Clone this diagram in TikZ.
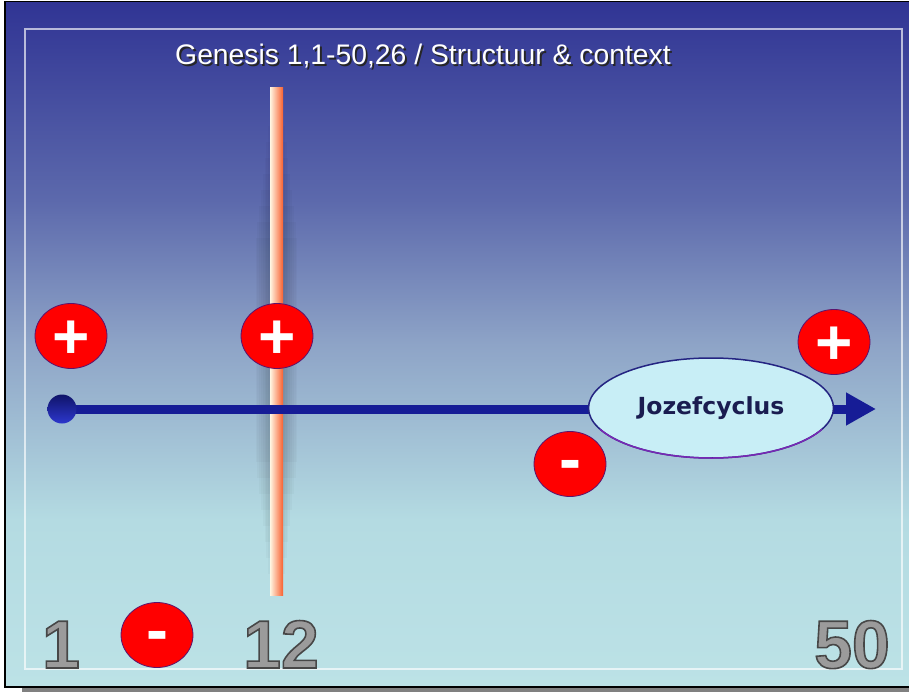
\documentclass[tikz,border=0pt]{standalone}
\usepackage{fontspec}
\setmainfont{Liberation Sans}
\newfontfamily\ovalfont{DejaVu Sans}
\usetikzlibrary{arrows.meta,shapes.geometric}
\definecolor{slideTop}{RGB}{48,52,148}
\definecolor{slideUp}{RGB}{92,105,172}
\definecolor{slideMid}{RGB}{142,164,199}
\definecolor{slideLow}{RGB}{180,219,226}
\definecolor{slideBot}{RGB}{188,226,230}
\definecolor{lineBlue}{RGB}{22,28,150}
\definecolor{ovalFill}{RGB}{200,238,246}
\definecolor{ovalEdge}{RGB}{36,36,130}
\definecolor{ovalLow}{RGB}{120,40,180}
\definecolor{ovalText}{RGB}{26,28,80}
\definecolor{signEdge}{RGB}{90,20,110}
\definecolor{barCream}{RGB}{255,246,226}
\definecolor{barPeach}{RGB}{255,205,160}
\definecolor{barOrange}{RGB}{248,96,48}
\definecolor{digitGray}{RGB}{155,155,155}
\newcommand{\chapnum}[1]{{\color{digitGray}\special{pdf:literal direct 2 Tr 1.6 w 0.28 0.28 0.28 RG}#1\special{pdf:literal direct 0 Tr}}}

\begin{document}
\begin{tikzpicture}[x=1pt, y=-1pt]
  \tikzset{
    sign/.style={ellipse, fill=red, draw=signEdge, line width=0.8pt,
      minimum width=72pt, minimum height=65pt, inner sep=0pt, text=white},
    plussign/.style={sign, font=\bfseries\fontsize{64}{64}\selectfont,
      text height=44.8pt, text depth=0pt},
    minussign/.style={sign, font=\bfseries\fontsize{66}{66}\selectfont,
      text height=35pt, text depth=0pt},
    chapter/.style={font=\bfseries\fontsize{68}{68}\selectfont, inner sep=0pt, anchor=base},
    heading/.style={font=\fontsize{28.3}{28.3}\selectfont, inner sep=0pt, anchor=base},
    mainline/.style={lineBlue, line width=9pt, -{Triangle[length=30pt,width=31pt]}},
    oval/.style={ellipse, fill=ovalFill, draw=ovalEdge, line width=1.5pt,
      minimum width=245pt, minimum height=100pt, inner sep=0pt, text=ovalText,
      font=\ovalfont\bfseries\fontsize{23.5}{23.5}\selectfont}
  }
  \useasboundingbox (0,0) rectangle (909,692);
  \clip (0,0) rectangle (909,692);
  \fill[white] (0,0) rectangle (909,692);
  \fill[black!50] (22,686) rectangle (909,692);
  \shade[top color=slideTop, bottom color=slideUp] (5,1.5) rectangle (909,200);
  \shade[top color=slideUp, bottom color=slideMid] (5,200) rectangle (909,345);
  \shade[top color=slideMid, bottom color=slideLow] (5,345) rectangle (909,520);
  \shade[top color=slideLow, bottom color=slideBot] (5,520) rectangle (909,687);
  \draw[black, line width=1.5pt] (5,1.5) rectangle (920,687);
  \draw[white, opacity=0.65, line width=1.4pt] (25,29) rectangle (902,669);

  \node[heading, text=black!85] (titleShadow) at (424.8,66.8) {Genesis 1,1-50,26 / Structuur \& context};
  \node[heading, text=white] (title) at (423,65) {Genesis 1,1-50,26 / Structuur \& context};

  \foreach \k in {1,...,8}
    \fill[black, opacity=0.022] ({270-1.8*\k},{110+16*\k}) rectangle ({283+1.8*\k},{590-16*\k});
  \shade[left color=barCream, middle color=barPeach, right color=barOrange] (270,88) rectangle (283,595);

  \coordinate (lineStart) at (62,409);
  \coordinate (lineEnd) at (876,409);
  \draw[mainline] (lineStart) -- (lineEnd);
  \shade[top color=lineBlue!70!black, bottom color={rgb,255:red,45;green,55;blue,205}] (lineStart) circle (14.5);

  \node[oval] (jozef) at (711,408) {Jozefcyclus};
  \draw[ovalLow, line width=1.5pt] (jozef.center) ++(25:122.5 and 50)
    arc[start angle=25, end angle=155, x radius=122.5, y radius=50];

  \node[plussign] (plusStart) at (71,336) {+};
  \node[plussign] (plusTwelve) at (277,336) {+};
  \node[plussign] (plusEnd) at (834,342) {+};
  \node[minussign] (minusJozef) at (570,464) {-};
  \node[minussign] (minusStart) at (157,635) {-};

  \node[chapter] (chapOne) at (61,668) {\chapnum{1}};
  \node[chapter] (chapTwelve) at (281,668) {\chapnum{12}};
  \node[chapter] (chapFifty) at (852,668) {\chapnum{50}};
\end{tikzpicture}
\end{document}
